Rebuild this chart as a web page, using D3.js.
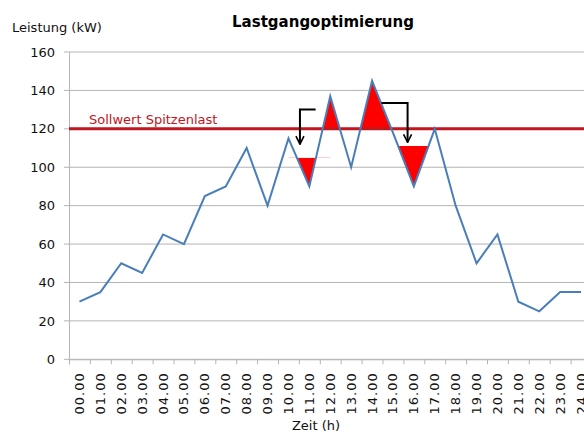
<!DOCTYPE html>
<html>
<head>
<meta charset="utf-8">
<script src="https://cdn.jsdelivr.net/npm/d3@7"></script>
<style>
  body { margin: 0; background: #fff; }
  svg { display: block; font-family: "DejaVu Sans", sans-serif; }
</style>
</head>
<body>
<div id="chart"></div>
<script>
// data
var stunden = ['00.00','01.00','02.00','03.00','04.00','05.00','06.00','07.00','08.00','09.00','10.00','11.00','12.00',
	'13.00','14.00','15.00','16.00','17.00','18.00','19.00','20.00','21.00','22.00','23.00','24.00'];
var leistung = [30, 35, 50, 45, 65, 60, 85, 90, 110, 80, 115, 90, 137, 100, 145, 118, 90, 120, 80, 50, 65, 30, 25, 35, 35];
var yTicks = [0, 20, 40, 60, 80, 100, 120, 140, 160];
var sollwert = 120;

// valleys that get filled (index range + fill level)
var talVon = [10, 15];
var talBis = [12, 17];
var talNiveau = [105, 111];

// arrows: start -> corner -> end, in (index, kW)
var pfeilStart = [[11.3, 130], [14.45, 133.5]];
var pfeilEcke = [[10.55, 130], [15.7, 133.5]];
var pfeilEnde = [[10.55, 112], [15.7, 113]];

var width = 584, height = 432;
var plotLeft = 69, plotRight = 591.5, plotTop = 52, plotBottom = 359.3;

var svg = d3.select('#chart').append('svg')
	.attr('width', width)
	.attr('height', height);

var x = d3.scaleLinear().domain([-0.5, stunden.length - 0.5]).range([plotLeft, plotRight]);
var y = d3.scaleLinear().domain([0, 160]).range([plotBottom, plotTop]);

// grid lines
svg.append('g').selectAll('line').data(yTicks).enter().append('line')
	.attr('x1', plotLeft - 5)
	.attr('x2', plotRight)
	.attr('y1', function(d) {return y(d);})
	.attr('y2', function(d) {return y(d);})
	.style('stroke', '#b4b4b4')
	.style('stroke-width', 1);

// y axis
var yAxis = svg.append('g')
	.attr('transform', 'translate(' + plotLeft + ',0)')
	.call(d3.axisLeft(y).tickValues(yTicks).tickSize(0).tickPadding(14));
yAxis.select('.domain').style('stroke', '#b4b4b4');
yAxis.selectAll('text').style('font-size', '13px').style('fill', '#111').style('font-family', '"DejaVu Sans", sans-serif');

// x axis (labels at category centers, ticks at boundaries)
var xTickAxis = svg.append('g')
	.attr('transform', 'translate(0,' + plotBottom + ')')
	.call(d3.axisBottom(x).tickValues(d3.range(-0.5, stunden.length, 1)).tickSize(5).tickFormat(''));
xTickAxis.select('.domain').style('stroke', '#b4b4b4');
xTickAxis.selectAll('line').style('stroke', '#b4b4b4');

svg.append('g').selectAll('text').data(stunden).enter().append('text')
	.attr('transform', function(d, i) {return 'translate(' + (x(i) + 4.5) + ',' + (plotBottom + 13) + ') rotate(-90)';})
	.attr('text-anchor', 'end')
	.style('font-size', '13px')
	.style('letter-spacing', '1px')
	.style('fill', '#111')
	.text(function(d) {return d;});

// clip paths for the red fills
var defs = svg.append('defs');
defs.append('clipPath').attr('id', 'ueber')
	.append('rect')
	.attr('x', plotLeft).attr('y', plotTop - 20)
	.attr('width', plotRight - plotLeft).attr('height', y(sollwert) - plotTop + 20);

talVon.forEach(function(v, k) {
	defs.append('clipPath').attr('id', 'tal' + k)
		.append('rect')
		.attr('x', x(talVon[k])).attr('y', y(talNiveau[k]))
		.attr('width', x(talBis[k]) - x(talVon[k])).attr('height', plotBottom - y(talNiveau[k]));
});

// peaks above sollwert
svg.append('path')
	.datum(leistung)
	.attr('clip-path', 'url(#ueber)')
	.attr('d', d3.area().x(function(d, i) {return x(i);}).y0(y(sollwert)).y1(function(d) {return y(d);}))
	.style('fill', '#ff0000');

// valley fills
talVon.forEach(function(v, k) {
	svg.append('path')
		.datum(leistung)
		.attr('clip-path', 'url(#tal' + k + ')')
		.attr('d', d3.area().x(function(d, i) {return x(i);}).y0(y(talNiveau[k])).y1(function(d) {return y(d);}))
		.style('fill', '#ff0000');
});

// sollwert line
svg.append('line')
	.attr('x1', plotLeft).attr('x2', plotRight)
	.attr('y1', y(sollwert)).attr('y2', y(sollwert))
	.style('stroke', '#c0161e')
	.style('stroke-width', 3);

svg.append('text')
	.attr('x', 89)
	.attr('y', y(sollwert) - 5)
	.style('font-size', '13px')
	.style('fill', '#c0161e')
	.text('Sollwert Spitzenlast');

// load line
svg.append('path')
	.datum(leistung)
	.attr('d', d3.line().x(function(d, i) {return x(i);}).y(function(d) {return y(d);}))
	.style('fill', 'none')
	.style('stroke', '#4a7ebb')
	.style('stroke-width', 2)
	.style('stroke-linejoin', 'miter');

// arrows
defs.append('marker').attr('id', 'spitze')
	.attr('viewBox', '0 0 10 10').attr('refX', 9).attr('refY', 5)
	.attr('markerWidth', 5).attr('markerHeight', 5)
	.attr('orient', 'auto')
	.append('path').attr('d', 'M1,1 L9,5 L1,9').style('fill', 'none').style('stroke', '#000').style('stroke-width', 1.6);

pfeilStart.forEach(function(p, k) {
	var pts = [pfeilStart[k], pfeilEcke[k], pfeilEnde[k]];
	svg.append('path')
		.attr('d', d3.line().x(function(d) {return x(d[0]);}).y(function(d) {return y(d[1]);})(pts))
		.attr('marker-end', 'url(#spitze)')
		.style('fill', 'none')
		.style('stroke', '#000')
		.style('stroke-width', 2);
});

// titles
svg.append('text')
	.attr('x', 323)
	.attr('y', 27)
	.attr('text-anchor', 'middle')
	.style('font-size', '15px')
	.style('font-weight', 'bold')
	.style('fill', '#000')
	.text('Lastgangoptimierung');

svg.append('text')
	.attr('x', 12)
	.attr('y', 32)
	.style('font-size', '13px')
	.style('fill', '#111')
	.text('Leistung (kW)');

svg.append('text')
	.attr('x', 316)
	.attr('y', 430)
	.attr('text-anchor', 'middle')
	.style('font-size', '13px')
	.style('fill', '#111')
	.text('Zeit (h)');
</script>
</body>
</html>
